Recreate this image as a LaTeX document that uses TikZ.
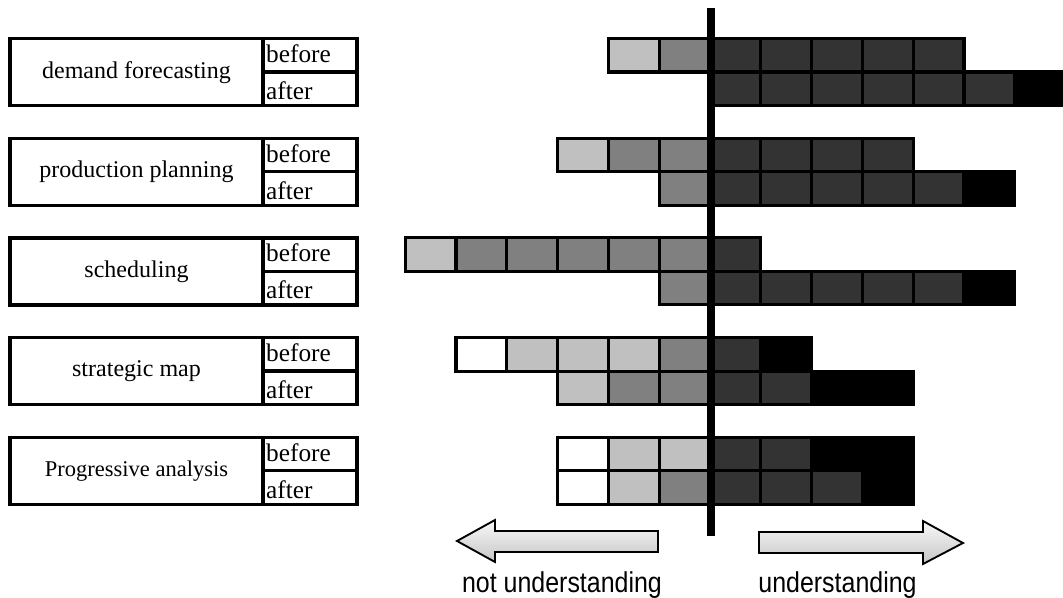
\documentclass[tikz,border=0pt]{standalone}
\usepackage{fontspec}
\setmainfont{Liberation Serif}
\newfontfamily\arrowfont{Liberation Sans}
\definecolor{cLight}{HTML}{C0C0C0}
\definecolor{cMid}{HTML}{808080}
\definecolor{cDark}{HTML}{333333}
\definecolor{cBlack}{HTML}{000000}
\definecolor{cWhite}{HTML}{FFFFFF}
\begin{document}
\begin{tikzpicture}[x=0.03cm,y=-0.03cm,
  cellbox/.style={draw=black,line width=2.6pt},
  framebox/.style={draw=black,line width=2.8pt},
  topic/.style={inner sep=0pt,font=\fontsize{20.5pt}{22pt}\selectfont},
  phase/.style={inner sep=0pt,anchor=base west,font=\fontsize{21.6pt}{23pt}\selectfont},
  bigarrow/.style={draw=black,line width=1.6pt,top color=gray!5,bottom color=gray!45},
  caption/.style={inner sep=0pt,anchor=base,font=\arrowfont\fontsize{21.3pt}{23pt}\selectfont}]
\useasboundingbox (0,0) rectangle (1063,598);

% label frames: topic | before / after
\foreach \t [count=\r from 0] in {demand forecasting,production planning,scheduling,strategic map,Progressive analysis}{
  \pgfmathsetmacro\top{38.5+99.7*\r}
  \draw[framebox] (10,\top) rectangle (357,\top+67);
  \draw[framebox] (263,\top) -- (263,\top+67);
  \draw[framebox] (263,\top+33.5) -- (357,\top+33.5);
  \node[phase] (b\r) at (266,\top+24) {before};
  \node[phase] (a\r) at (266,\top+61) {after};
}
\node[topic] (t0) at (136.5,38.5+34) {demand forecasting};
\node[topic] (t1) at (136.5,138.2+34) {production planning};
\node[topic] (t2) at (136.5,237.9+34) {scheduling};
\node[topic] (t3) at (136.5,337.6+34) {strategic map};
\node[topic,font=\fontsize{19.2pt}{21pt}\selectfont] (t4) at (136.5,437.3+34) {Progressive analysis};

% response cells: #1 first column (0 = first cell right of the axis), #2 top, #3 fills
\newcommand\cellrow[3]{%
  \foreach \c [count=\i from 0] in {#3}{
    \draw[cellbox,fill=\c] ({710+50.8*(#1+\i)},#2) rectangle ++(50.8,33.5);
  }}
\cellrow{-2}{38.5}{cLight,cMid,cDark,cDark,cDark,cDark,cDark}
\cellrow{0}{72}{cDark,cDark,cDark,cDark,cDark,cDark,cBlack}
\cellrow{-3}{138.2}{cLight,cMid,cMid,cDark,cDark,cDark,cDark}
\cellrow{-1}{171.7}{cMid,cDark,cDark,cDark,cDark,cDark,cBlack}
\cellrow{-6}{237.9}{cLight,cMid,cMid,cMid,cMid,cMid,cDark}
\cellrow{-1}{271.4}{cMid,cDark,cDark,cDark,cDark,cDark,cBlack}
\cellrow{-5}{337.6}{cWhite,cLight,cLight,cLight,cMid,cDark,cBlack}
\cellrow{-3}{371.1}{cLight,cMid,cMid,cDark,cDark,cBlack,cBlack}
\cellrow{-3}{437.3}{cWhite,cLight,cLight,cDark,cDark,cBlack,cBlack}
\cellrow{-3}{470.8}{cWhite,cLight,cMid,cDark,cDark,cDark,cBlack}

% dividing axis
\draw[line width=6pt] (711,8) -- (711,536);

% direction arrows
\draw[bigarrow] (457,541) -- (495,520) -- (495,531) -- (658,531) -- (658,552)
  -- (495,552) -- (495,562) -- cycle;
\draw[bigarrow] (759,532) -- (923,532) -- (923,521) -- (963,543) -- (923,564)
  -- (923,553) -- (759,553) -- cycle;
\node[caption] (neg) at (562,592) {\scalebox{1}[1.15]{not understanding}};
\node[caption] (pos) at (837.5,592) {\scalebox{1}[1.15]{understanding}};
\end{tikzpicture}
\end{document}
